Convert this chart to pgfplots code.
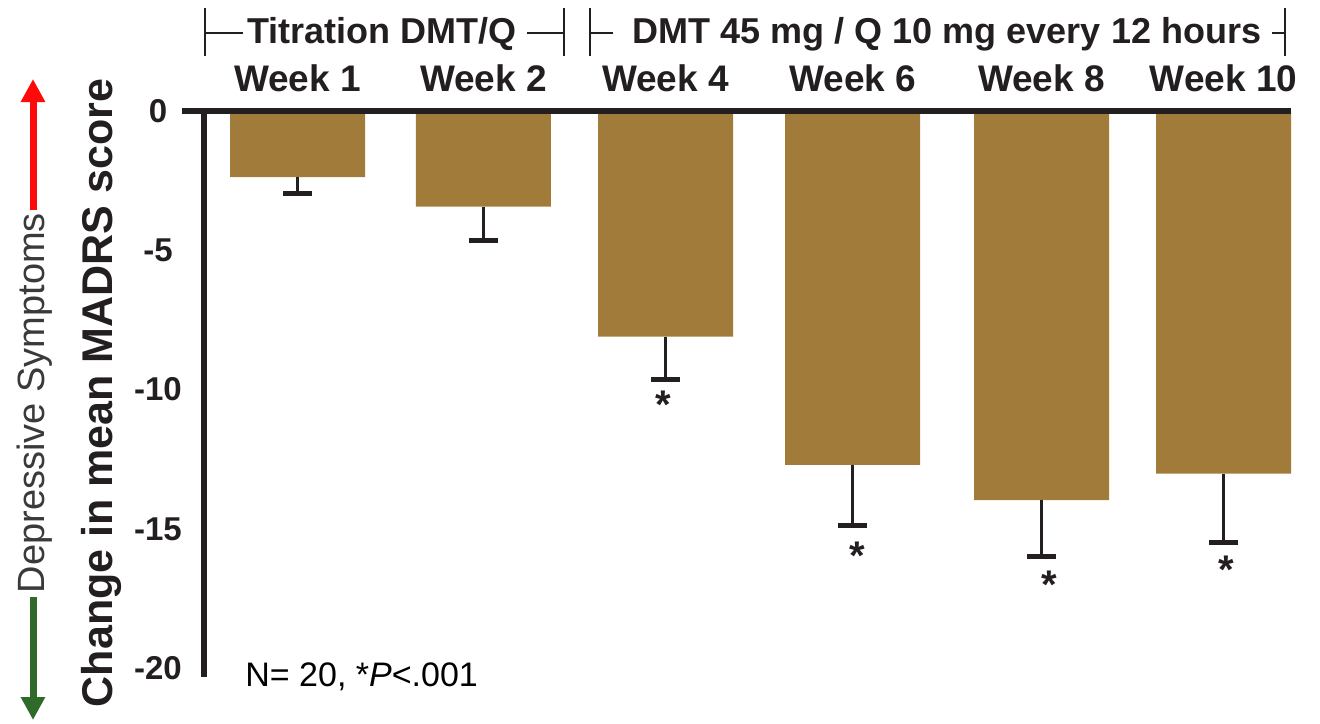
\documentclass[border=0pt]{standalone}
\usepackage{pgfplots}
\pgfplotsset{compat=1.18}
\usepackage{fontspec}
\setmainfont{Liberation Sans}
\usetikzlibrary{arrows.meta}
\definecolor{barbrown}{RGB}{161,123,57}
\definecolor{upred}{RGB}{255,10,10}
\definecolor{downgreen}{RGB}{46,106,42}
\definecolor{inkgray}{RGB}{58,58,58}
\definecolor{ink}{RGB}{35,31,32}

\begin{document}
\begin{tikzpicture}
\useasboundingbox (0,0) rectangle (660pt,-361.5pt);
\begin{axis}[
  at={(102pt,-55.5pt)}, anchor=north west,
  scale only axis, width=543.5pt, height=283pt,
  xmin=-0.505, xmax=5.364, ymin=-20.32, ymax=0,
  axis x line*=top, axis y line*=left,
  axis line style={draw=none},
  clip=false,
  xtick={0,1.004,1.987,2.997,4.017,5},
  xticklabels={Week 1,Week 2,Week 4,Week 6,Week 8,Week 10},
  ytick={0,-5,-10,-15,-20},
  major tick length=0pt,
  tick label style={font=\fontsize{16.5}{18}\selectfont\bfseries, text=ink},
  xticklabel style={font=\fontsize{18.5}{20}\selectfont\bfseries, anchor=base, yshift=10pt},
  yticklabel style={anchor=center, xshift=-23pt},
  /pgf/number format/assume math mode=true,
]
% mean change with one-sided SEM bars
\addplot[ybar, bar width=67.5pt, fill=barbrown, draw=none,
  error bars/.cd, y dir=minus, y explicit, error mark=|,
  error bar style={line width=1.6pt, ink},
  error mark options={line width=2.5pt, mark size=7.25pt, ink}]
coordinates {
  (0,-2.37)     -= (0,0.58)
  (1.004,-3.43) -= (0,1.21)
  (1.987,-8.10) -= (0,1.53)
  (2.997,-12.70) -= (0,2.18)
  (4.017,-13.97) -= (0,2.02)
  (5,-13.02)    -= (0,2.47)
};
% significance markers
\addplot[draw=none, mark=none,
  nodes near coords={*},
  every node near coord/.append style={anchor=center, font=\fontsize{20}{22}\selectfont\bfseries, text=ink}]
coordinates {
  (1.974,-10.56)
  (3.021,-15.98)
  (4.058,-17.02)
  (5.013,-16.48)
};
\draw[line width=2.8pt, ink] (rel axis cs:0,1) -- (rel axis cs:0,0);
\draw[line width=3pt, ink] ([xshift=-11pt]rel axis cs:0,1) -- (rel axis cs:1,1);
\end{axis}

% phase brackets
\draw[line width=1.3pt, ink] (102.5pt,-4pt) -- (102.5pt,-28pt)
  (102.5pt,-16.5pt) -- (121.5pt,-16.5pt)
  (263.5pt,-16.5pt) -- (282pt,-16.5pt)
  (282pt,-4pt) -- (282pt,-28pt);
\node[anchor=base, font=\fontsize{18}{20}\selectfont\bfseries, text=ink] at (191pt,-21.5pt) {Titration DMT/Q};
\draw[line width=1.3pt, ink] (295pt,-4pt) -- (295pt,-28pt)
  (295pt,-16.5pt) -- (306.5pt,-16.5pt)
  (636pt,-16.5pt) -- (642pt,-16.5pt)
  (642.5pt,-4pt) -- (642.5pt,-28pt);
\node[anchor=base, font=\fontsize{18}{20}\selectfont\bfseries, text=ink] at (473.5pt,-21.5pt) {DMT 45 mg / Q 10 mg every 12 hours};

% direction arrows
\draw[upred, line width=3.5pt, -{Triangle[length=11.5pt, width=11.5pt]}] (16.5pt,-105pt) -- (16.5pt,-39.5pt);
\draw[downgreen, line width=3.5pt, -{Triangle[length=11.5pt, width=11.5pt]}] (16.5pt,-298.5pt) -- (16.5pt,-360pt);
\node[rotate=90, font=\fontsize{19}{21}\selectfont, text=inkgray] at (17.5pt,-201.5pt) {Depressive Symptoms};
\node[rotate=90, font=\fontsize{21.5}{24}\selectfont\bfseries, text=ink] at (50.5pt,-196.5pt) {Change in mean MADRS score};

\node[anchor=base west, font=\fontsize{17}{19}\selectfont, inner sep=0pt] at (122.5pt,-343pt) {N= 20, *\textit{P}<.001};
\end{tikzpicture}
\end{document}
